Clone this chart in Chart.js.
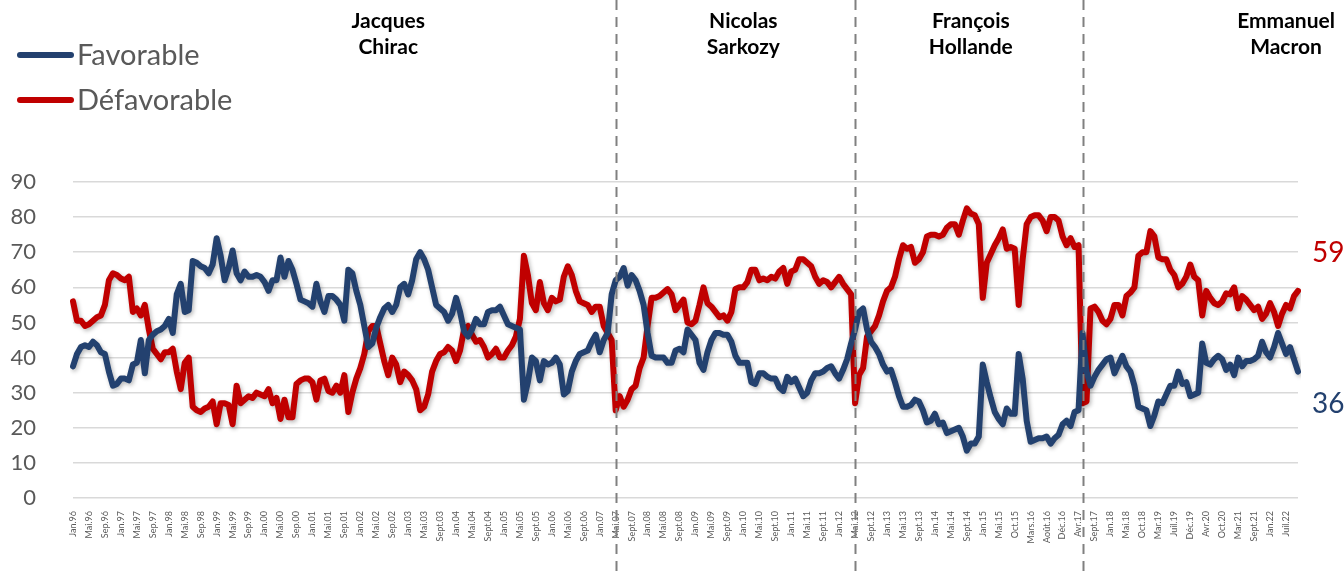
<!DOCTYPE html>
<html lang="fr">
<head>
<meta charset="utf-8">
<title>Popularité des présidents</title>
<script src="https://cdn.jsdelivr.net/npm/chart.js@4.4.1/dist/chart.umd.min.js"></script>
<style>
  html, body { margin: 0; padding: 0; background: #fff; }
  #wrap { width: 1344px; height: 571px; position: relative; }
</style>
</head>
<body>
<div id="wrap"><canvas id="myChart"></canvas></div>
<script>
// une étiquette tous les 4 relevés
const tickLabels = ['Jan.96','Mai.96','Sep.96','Jan.97','Mai.97','Sep.97','Jan.98','Mai.98','Sep.98','Jan.99','Mai.99','Sep.99',
  'Jan.00','Mai.00','Sep.00','Jan.01','Mai.01','Sep.01','Jan.02','Mai.02','Sep.02','Jan.03','Mai.03','Sept.03',
  'Jan.04','Mai.04','Sept.04','Jan.05','Mai.05','Sept.05','Jan.06','Mai.06','Sept.06','Jan.07','Mai.07','Sept.07',
  'Jan.08','Mai.08','Sept.08','Jan.09','Mai.09','Sept.09','Jan.10','Mai.10','Sept.10','Jan.11','Mai.11','Sept.11',
  'Jan.12','Mai.12','Sept.12','Jan.13','Mai.13','Sept.13','Jan.14','Mai.14','Sept.14','Jan.15','Mai.15','Oct.15',
  'Mars.16','Août.16','Déc.16','Avr.17','Sept.17','Jan.18','Mai.18','Oct.18','Mar.19','Juil.19','Déc.19','Avr.20',
  'Oct.20','Mar.21','Sept.21','Jan.22','Juil.22'];

const favorable = [
  37.5, 41, 43, 43.5, 43, 44.5, 43.5, 41.5, 41, 36,
  32, 32.5, 34, 34, 33.5, 38, 38.5, 45, 35.5, 45,
  46.5, 47.5, 48, 49, 51, 47, 58, 61, 53, 53.5,
  67.5, 67, 66, 65.5, 64, 66.5, 74, 69, 62, 65.5,
  70.5, 64, 62, 64.5, 63, 63, 63.5, 63, 61.5, 59,
  62, 62, 68.5, 63, 67.5, 65, 61, 56.5, 56, 55.5,
  54.5, 61, 56, 53, 57.5, 57.5, 56.5, 55, 50.5, 65,
  64, 59, 55, 49, 43, 44, 48.5, 51.5, 54, 55,
  53, 55, 60, 61, 58, 62, 68, 70, 68, 65,
  60, 55, 54, 53, 50.5, 52.5, 57, 53, 47.5, 46,
  48, 51, 49.5, 49.5, 53, 53.5, 53.5, 54.5, 52, 49.5,
  49, 48.5, 48, 28, 33, 40, 39, 33.5, 39, 38,
  38.5, 40, 38, 29.5, 30.5, 36, 39, 41, 41.5, 42,
  44.5, 46.5, 41.5, 45, 47, 58, 62, 63, 65.5, 60.5,
  63.5, 62, 59, 55, 47, 40.5, 40, 40, 40, 38.5,
  38.5, 42, 42.5, 41.5, 48, 46.5, 45, 38.5, 36.5, 41.5,
  45, 47, 47, 46.5, 46.5, 44.5, 40.5, 38.5, 38.5, 38.5,
  33, 32.5, 35.5, 35.5, 34.5, 34, 34, 31.5, 30.5, 34.5,
  33, 34, 31.5, 29, 30, 33.5, 35.5, 35.5, 36, 37,
  37.5, 35.5, 34, 36.5, 39.5, 44, 48, 53, 54, 48,
  44.5, 43, 41, 38, 36, 36.5, 33, 29, 26, 26,
  26.5, 28, 27.5, 25, 21.5, 22, 24, 21, 21.5, 18.5,
  19, 19.5, 20, 17.5, 13.5, 15.5, 15.5, 17.5, 38, 33,
  28.5, 24.5, 22.5, 21, 25.5, 24, 24, 41, 34, 22,
  16, 16.5, 17, 17, 17.5, 15.5, 17, 18, 21, 22,
  20.5, 24.5, 25, 47, 36, 32, 34.5, 36.5, 38, 39.5,
  40, 35.5, 38, 40.5, 37.5, 36, 32, 26, 25.5, 25,
  20.5, 23.5, 27.5, 27, 29.5, 32, 32, 36, 32.5, 33,
  29, 29.5, 30, 44, 38.5, 38, 39.5, 40.5, 39.5, 36.5,
  38, 35, 40, 37.5, 39, 39, 39.5, 40.5, 44.5, 41.5,
  40, 43, 47, 44, 41, 43, 39.5, 36
];

const defavorable = [
  56, 50.5, 50.5, 49, 49.5, 50.5, 51.5, 52, 55, 62,
  64, 63.5, 62.5, 62, 63, 53, 54, 52, 55, 48,
  42.5, 41, 39.5, 41.5, 41.5, 42.5, 36, 31, 38.5, 40,
  26, 25, 24.5, 25.5, 26, 27.5, 21, 27, 27, 26.5,
  21, 32, 27, 28, 29, 28.5, 30, 29.5, 29, 31,
  27, 28.5, 22.5, 28, 23, 23, 32.5, 33.5, 34, 34,
  33, 28, 33.5, 34, 30.5, 30, 32, 30, 35, 24.5,
  30, 34, 37, 41, 47.5, 49, 49, 44, 39, 35,
  40, 38, 33, 36, 35, 33.5, 31, 25, 26, 29.5,
  36, 39, 41, 41.5, 43, 42, 39, 42, 48, 49,
  46.5, 44.5, 45, 43, 40, 41, 42.5, 40, 40, 42,
  43.5, 46, 51, 69, 63.5, 55.5, 53.5, 61.5, 55.5, 53.5,
  57, 56, 56.5, 63, 66, 63.5, 59, 56, 55.5, 55,
  53, 54.5, 54.5, 49, 47, 45, 25, 29, 26, 28,
  31, 32, 37, 40, 49, 57, 57, 57.5, 58.5, 59.5,
  58, 53.5, 55, 56.5, 50, 49.5, 50.5, 55, 60, 55.5,
  54.5, 53, 51.5, 52, 50.5, 53, 59.5, 60, 60, 61.5,
  65, 65, 62, 62.5, 62, 63, 62.5, 64.5, 65.5, 61,
  64.5, 65, 68, 68, 67, 66, 63, 61, 62, 61.5,
  60, 61.5, 63, 61, 59.5, 58, 27, 35, 37, 46,
  47.5, 49, 52, 56, 59, 60, 63, 68, 72, 71,
  71.5, 67, 68, 70, 74.5, 75, 75, 74.5, 75, 77,
  78, 78, 75, 79, 82.5, 81, 80.5, 78, 57, 67,
  69.5, 72, 74, 76.5, 71, 71.5, 71, 55, 68, 78,
  80, 80.5, 80.5, 79, 76, 80, 80, 79, 74.5, 72,
  74, 71.5, 72, 27, 27.5, 54, 54.5, 53, 50.5, 49.5,
  51, 55, 55, 52, 57.5, 58.5, 60, 69, 70, 70,
  76, 74.5, 68.5, 68, 68, 65, 63.5, 60, 61, 63,
  66.5, 63, 62, 52, 59, 57, 55.5, 55, 56, 58.3,
  58, 60, 54, 57.5, 56.5, 55, 53.5, 54.5, 51, 52.5,
  55.5, 53, 49, 52.5, 55, 54, 57.5, 59
];

const presidents = [['Jacques', 'Chirac'], ['Nicolas', 'Sarkozy'], ['François', 'Hollande'], ['Emmanuel', 'Macron']];
const presidentCenter = [79, 168, 225, 304];   // relevé sous lequel le nom est centré
const mandateBreaks = [136, 196, 253];         // relevés des changements de président

const BLUE = '#23416F';
const RED = '#C00000';
const GREY = '#595959';

const labels = favorable.map((_, i) => (i % 4 === 0 ? tickLabels[i / 4] : ''));

const decor = {
  id: 'decor',
  beforeDatasetDraw(chart) {
    const ctx = chart.ctx;
    ctx.save();
    ctx.shadowColor = 'rgba(0,0,0,0.28)';
    ctx.shadowBlur = 4;
    ctx.shadowOffsetX = 1.5;
    ctx.shadowOffsetY = 2;
  },
  afterDatasetDraw(chart) {
    chart.ctx.restore();
  },
  afterDatasetsDraw(chart) {
    const ctx = chart.ctx;
    const xs = chart.scales.x;
    const ys = chart.scales.y;

    // lignes de séparation des mandats
    ctx.save();
    ctx.strokeStyle = '#808080';
    ctx.lineWidth = 2;
    ctx.setLineDash([10, 7]);
    mandateBreaks.forEach(i => {
      const x = Math.round(xs.getPixelForValue(i)) + 0.5;
      ctx.beginPath();
      ctx.moveTo(x, 0);
      ctx.lineTo(x, chart.height);
      ctx.stroke();
    });
    ctx.restore();

    // noms des présidents
    ctx.save();
    ctx.fillStyle = '#000';
    ctx.font = 'bold 21px Lato';
    ctx.textAlign = 'center';
    ctx.textBaseline = 'middle';
    presidents.forEach((p, k) => {
      const x = xs.getPixelForValue(presidentCenter[k]);
      ctx.fillText(p[0], x, 21);
      ctx.fillText(p[1], x, 47);
    });
    ctx.restore();

    // légende
    ctx.save();
    [[BLUE, 'Favorable', 55], [RED, 'Défavorable', 100]].forEach(([c, t, y]) => {
      ctx.strokeStyle = c;
      ctx.lineWidth = 6;
      ctx.lineCap = 'round';
      ctx.beginPath();
      ctx.moveTo(20, y);
      ctx.lineTo(71, y);
      ctx.stroke();
      ctx.fillStyle = GREY;
      ctx.font = '29px Lato';
      ctx.textBaseline = 'middle';
      ctx.fillText(t, 77, y + 1);
    });
    ctx.restore();

    // dernières valeurs
    ctx.save();
    ctx.font = '28px Lato';
    ctx.textBaseline = 'middle';
    ctx.textAlign = 'left';
    ctx.fillStyle = RED;
    ctx.fillText(String(defavorable[defavorable.length - 1]), 1312, ys.getPixelForValue(69.7));
    ctx.fillStyle = BLUE;
    ctx.fillText(String(favorable[favorable.length - 1]), 1312, ys.getPixelForValue(26.8));
    ctx.restore();
  }
};

const ctx = document.getElementById('myChart').getContext('2d');
new Chart(ctx, {
  type: 'line',
  data: {
    labels: labels,
    datasets: [
      { label: 'Favorable', data: favorable, borderColor: BLUE, borderWidth: 6, pointRadius: 0,
        tension: 0, borderJoinStyle: 'round', borderCapStyle: 'round' },
      { label: 'Défavorable', data: defavorable, borderColor: RED, borderWidth: 6, pointRadius: 0,
        tension: 0, borderJoinStyle: 'round', borderCapStyle: 'round' }
    ]
  },
  options: {
    responsive: true,
    maintainAspectRatio: false,
    animation: false,
    layout: { padding: { top: 182, right: 46, left: 0, bottom: 0 } },
    plugins: { legend: { display: false }, tooltip: { enabled: false } },
    scales: {
      x: {
        offset: false,
        grid: { display: false },
        border: { display: false },
        ticks: { autoSkip: false, minRotation: 90, maxRotation: 90, color: GREY,
                 font: { family: 'Lato', size: 9 }, padding: 5 },
        afterFit: s => { s.height = 73; }
      },
      y: {
        min: 0,
        max: 90,
        grid: { color: '#D9D9D9', lineWidth: 1.5, drawTicks: false },
        border: { display: false },
        ticks: { stepSize: 10, color: GREY, font: { family: 'Lato', size: 22 }, padding: 37 },
        afterFit: s => { s.width = 73; }
      }
    }
  },
  plugins: [decor]
});
</script>
</body>
</html>
